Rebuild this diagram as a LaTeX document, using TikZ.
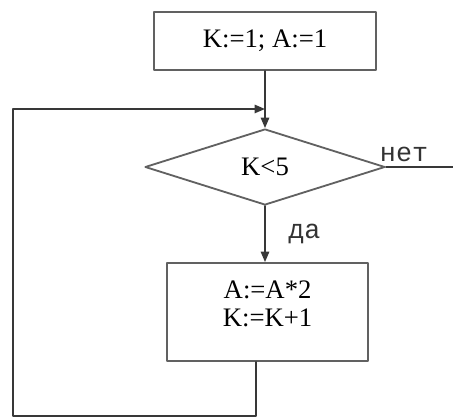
\documentclass[tikz,border=0pt]{standalone}
\usepackage{fontspec}
\setmainfont{Liberation Serif}
\newfontfamily\labelfont{Liberation Mono}
\usetikzlibrary{arrows.meta,positioning,shapes.geometric}
\tikzset{
  every picture/.append style={line cap=round,line join=round},
  fc box/.style={rectangle,draw=black!62,line width=1.3pt,inner sep=0pt,
    font=\fontsize{19}{20}\selectfont,align=center},
  fc decision/.style={diamond,draw=black!62,line width=1.3pt,inner sep=0pt,
    minimum width=6cm,minimum height=1.9cm,font=\fontsize{19}{21}\selectfont},
  fc line/.style={black!78,line width=1.1pt},
  fc arrow/.style={fc line,-{Triangle[length=2.6mm,width=2.1mm]}},
  fc label/.style={font=\labelfont\fontsize{19}{21}\selectfont,text=black!80}
}

\begin{document}
\begin{tikzpicture}
\useasboundingbox (0,0) rectangle (11.325,10.45);
\node[fc box,minimum width=5.55cm,minimum height=1.45cm] (init) at (6.625,9.425)
  {K:=1; A:=1};
\node[fc decision] (cond) at (6.625,6.275) {K<5};
\node[fc box,minimum width=5.025cm,minimum height=2.45cm,text depth=0.4cm] (body) at (6.69,2.65)
  {A:=A*2\\K:=K+1};
\coordinate (join) at (6.625,7.725);
\coordinate (corner) at (0.325,0.05);
\coordinate (exit) at (11.325,6.275);
\draw[fc arrow] (init.south) -- (cond.north);
\draw[fc arrow] (cond.south) -- (cond.south |- body.north)
  node[fc label,midway,right=0.45cm] {да};
\draw[fc line] (cond.east) -- (exit)
  node[fc label,pos=0.27,above] {нет};
\draw[fc arrow] ([xshift=-0.29cm]body.south) |- (corner) |- (join);
\end{tikzpicture}
\end{document}
